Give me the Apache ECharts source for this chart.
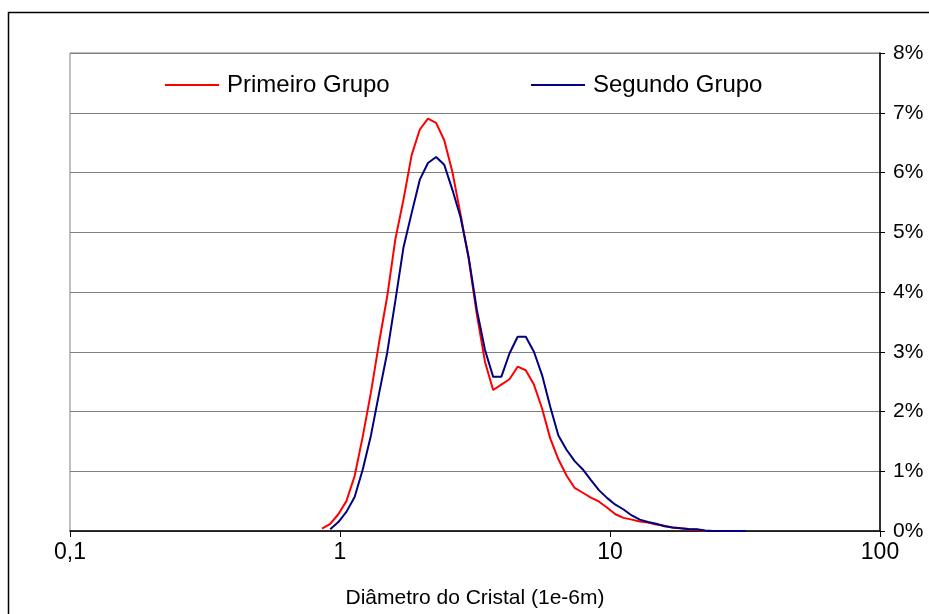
<!DOCTYPE html>
<html>
<head>
<meta charset="utf-8">
<script src="https://cdn.jsdelivr.net/npm/echarts@6/dist/echarts.min.js"></script>
<style>
  html, body { margin: 0; padding: 0; background: #ffffff; }
  #chart { width: 929px; height: 614px; }
</style>
</head>
<body>
<div id="chart"></div>
<script>
// Crystal size classes (micrometres), one per sieve step
const diameters = [
  0.858, 0.920, 0.986, 1.056, 1.133, 1.214, 1.302, 1.395, 1.495, 1.603,
  1.719, 1.842, 1.975, 2.117, 2.270, 2.433, 2.608, 2.796, 2.997, 3.213,
  3.444, 3.692, 3.958, 4.243, 4.549, 4.876, 5.227, 5.603, 6.007, 6.439,
  6.902, 7.399, 7.932, 8.503, 9.115, 9.770, 10.47, 11.23, 12.04, 12.90,
  13.83, 14.83, 15.90, 17.04, 18.27, 19.58, 20.99, 22.50, 24.12, 25.86,
  27.72, 29.72, 31.86
];

// Volume fraction (%) per class
const primeiroGrupo = [
  0.04, 0.12, 0.28, 0.50, 0.92, 1.58, 2.32, 3.15, 3.92, 4.88,
  5.55, 6.29, 6.72, 6.90, 6.83, 6.54, 6.01, 5.30, 4.55, 3.62,
  2.83, 2.36, 2.45, 2.54, 2.75, 2.69, 2.45, 2.05, 1.55, 1.20,
  0.93, 0.72, 0.64, 0.56, 0.49, 0.39, 0.28, 0.22, 0.19, 0.16,
  0.14, 0.11, 0.09, 0.06, 0.045, 0.03, 0.02, 0
];

const segundoGrupo = [
  null, 0.03, 0.15, 0.32, 0.57, 1.03, 1.60, 2.30, 2.98, 3.85,
  4.75, 5.32, 5.88, 6.16, 6.26, 6.13, 5.71, 5.25, 4.58, 3.70,
  3.03, 2.58, 2.58, 2.97, 3.25, 3.25, 3.00, 2.61, 2.08, 1.60,
  1.36, 1.17, 1.03, 0.85, 0.68, 0.55, 0.44, 0.36, 0.26, 0.19,
  0.15, 0.12, 0.08, 0.06, 0.045, 0.035, 0.03, 0.01, 0, 0,
  0, 0, 0
];

const seriesNames = ['Primeiro Grupo', 'Segundo Grupo'];
const seriesColors = ['#ff0000', '#000080'];
const xTickValues = [0.1, 1, 10, 100];
const xTickLabels = ['0,1', '1', '10', '100'];
const yTickLabels = ['0%', '1%', '2%', '3%', '4%', '5%', '6%', '7%', '8%'];
const xAxisTitle = 'Diâmetro do Cristal (1e-6m)';

function pairs(values) {
  return values.map((v, i) => [diameters[i], v]);
}

const FONT = '"Liberation Sans", Arial, sans-serif';

// one legend block per series, each placed on its own
function legendBlock(i, left) {
  return {
    data: [{ name: seriesNames[i], icon: 'rect', itemStyle: { color: seriesColors[i] } }],
    left: left, top: 73, padding: 0,
    itemWidth: 54, itemHeight: 2, itemGap: 0,
    textStyle: { fontFamily: FONT, fontSize: 24, color: '#000000', padding: [0, 0, 0, 3] }
  };
}

const chart = echarts.init(document.getElementById('chart'), null, { renderer: 'canvas' });

chart.setOption({
  animation: false,
  backgroundColor: '#ffffff',
  color: seriesColors,
  textStyle: { fontFamily: FONT, color: '#000000' },
  grid: {
    left: 70, right: 49, top: 53, bottom: 83,
    show: true, borderColor: '#808080', borderWidth: 1
  },
  legend: [legendBlock(0, 165), legendBlock(1, 531)],
  xAxis: {
    type: 'log',
    logBase: 10,
    min: 0.1,
    max: 100,
    name: xAxisTitle,
    nameLocation: 'middle',
    nameGap: 57,
    nameTextStyle: { fontFamily: FONT, fontSize: 21, color: '#000000' },
    axisLine: { show: true, onZero: false, lineStyle: { color: '#000000', width: 1.5 } },
    axisTick: { show: true, length: 6, lineStyle: { color: '#000000', width: 1 } },
    minorTick: { show: false },
    splitLine: { show: false },
    axisLabel: {
      fontFamily: FONT, fontSize: 23, color: '#000000', margin: 10,
      formatter: (v) => {
        const k = xTickValues.findIndex(t => Math.abs(Math.log10(t) - Math.log10(v)) < 1e-6);
        return k >= 0 ? xTickLabels[k] : '';
      }
    }
  },
  yAxis: {
    type: 'value',
    position: 'right',
    min: 0,
    max: 8,
    interval: 1,
    axisLine: { show: true, lineStyle: { color: '#000000', width: 1.5 } },
    axisTick: { show: true, length: 5, lineStyle: { color: '#000000', width: 1 } },
    splitLine: { show: true, lineStyle: { color: '#808080', width: 1 } },
    axisLabel: {
      fontFamily: FONT, fontSize: 21, color: '#000000', margin: 13,
      formatter: (v) => yTickLabels[Math.round(v)]
    }
  },
  series: [
    {
      name: seriesNames[0],
      type: 'line',
      data: pairs(primeiroGrupo),
      showSymbol: false,
      symbol: 'none',
      lineStyle: { color: seriesColors[0], width: 2 },
      itemStyle: { color: seriesColors[0] },
      connectNulls: false,
      z: 2
    },
    {
      name: seriesNames[1],
      type: 'line',
      data: pairs(segundoGrupo),
      showSymbol: false,
      symbol: 'none',
      lineStyle: { color: seriesColors[1], width: 2 },
      itemStyle: { color: seriesColors[1] },
      connectNulls: false,
      z: 3
    }
  ],
  graphic: [
    {
      type: 'rect',
      left: 6, top: 10,
      shape: { x: 0, y: 0, width: 1000, height: 700 },
      style: { fill: 'none', stroke: '#000000', lineWidth: 1.5 },
      silent: true
    }
  ]
});
</script>
</body>
</html>
